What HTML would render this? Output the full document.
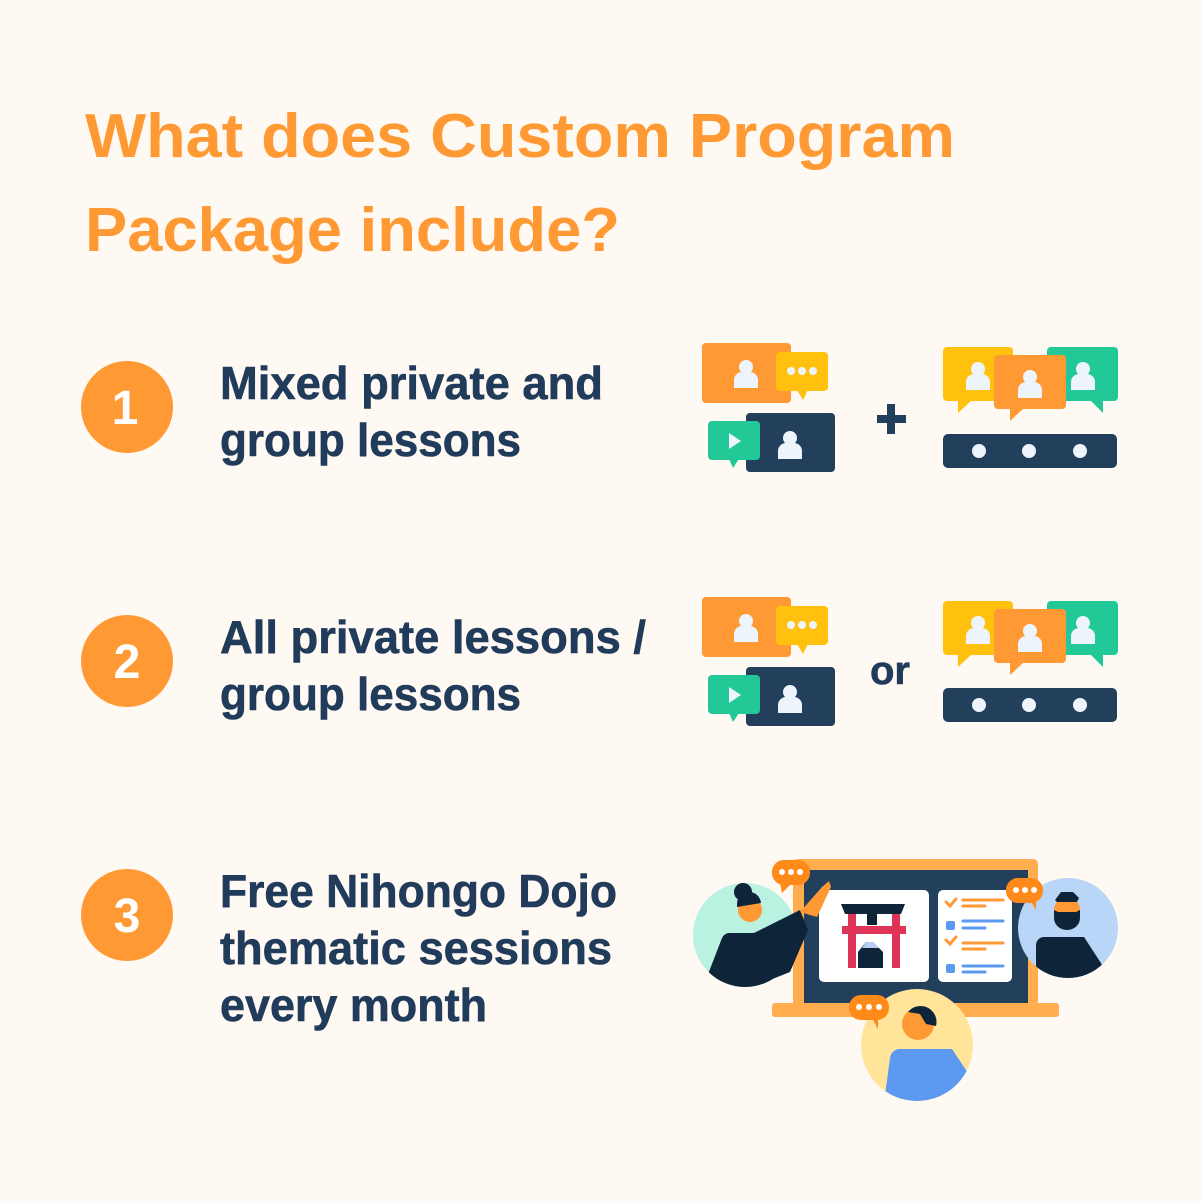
<!DOCTYPE html>
<html><head><meta charset="utf-8"><style>html,body{margin:0;padding:0;background:#fff9f4}svg{display:block}</style></head><body>
<svg width="1201" height="1201" viewBox="0 0 1201 1201" xmlns="http://www.w3.org/2000/svg" font-family="Liberation Sans, sans-serif">
<rect width="1201" height="1201" fill="#fff9f4"/>
<g fill="#ff9933" font-weight="bold" font-size="62">
<text x="85" y="157" textLength="870" lengthAdjust="spacingAndGlyphs">What does Custom Program</text>
<text x="85" y="251" textLength="535" lengthAdjust="spacingAndGlyphs">Package include?</text>
</g>
<defs>
<g id="person"><circle cx="0" cy="-9" r="7" fill="#eef4fc"/><path d="M-12 12 V4 a8 8 0 0 1 8-8 h8 a8 8 0 0 1 8 8 V12 Z" fill="#eef4fc"/></g>
<g id="priv">
<rect x="702" y="343" width="89" height="60" rx="4" fill="#ff9933"/>
<use href="#person" x="746" y="376"/>
<rect x="776" y="352" width="52" height="39" rx="4" fill="#ffc10e"/>
<path d="M797 390 L803 400 L808 390Z" fill="#ffc10e"/>
<circle cx="791" cy="371" r="4" fill="#eef4fc"/><circle cx="802" cy="371" r="4" fill="#eef4fc"/><circle cx="813" cy="371" r="4" fill="#eef4fc"/>
<rect x="746" y="413" width="89" height="59" rx="4" fill="#223f5c"/>
<use href="#person" x="790" y="447"/>
<rect x="708" y="421" width="52" height="39" rx="4" fill="#22c997"/>
<path d="M729 459 L733 468 L739 459Z" fill="#22c997"/>
<path d="M729 433 L741 441 L729 449Z" fill="#eef4fc"/>
</g>
<g id="grp">
<rect x="1047" y="347" width="71" height="54" rx="4" fill="#22c997"/>
<path d="M1090 400 L1103 413 L1103 400Z" fill="#22c997"/>
<use href="#person" x="1083" y="378"/>
<rect x="943" y="347" width="70" height="54" rx="4" fill="#ffc10e"/>
<path d="M958 400 L958 413 L972 400Z" fill="#ffc10e"/>
<use href="#person" x="978" y="378"/>
<rect x="994" y="355" width="72" height="54" rx="4" fill="#ff9933"/>
<path d="M1010 408 L1010 421 L1024 408Z" fill="#ff9933"/>
<use href="#person" x="1030" y="386"/>
<rect x="943" y="434" width="174" height="34" rx="5" fill="#223f5c"/>
<circle cx="979" cy="451" r="7" fill="#eef4fc"/><circle cx="1029" cy="451" r="7" fill="#eef4fc"/><circle cx="1080" cy="451" r="7" fill="#eef4fc"/>
</g>
</defs>
<g fill="#ff9933"><circle cx="127" cy="407" r="46"/><circle cx="127" cy="661" r="46"/><circle cx="127" cy="915" r="46"/></g>
<g fill="#fff" font-weight="bold" font-size="48" text-anchor="middle">
<text x="125" y="424">1</text><text x="127" y="678">2</text><text x="127" y="932">3</text></g>
<g fill="#213b5a" font-weight="bold" font-size="46" stroke="#213b5a" stroke-width="0.6">
<text x="220" y="399" textLength="383" lengthAdjust="spacingAndGlyphs">Mixed private and</text>
<text x="220" y="456" textLength="301" lengthAdjust="spacingAndGlyphs">group lessons</text>
<text x="220" y="653" textLength="426" lengthAdjust="spacingAndGlyphs">All private lessons /</text>
<text x="220" y="710" textLength="301" lengthAdjust="spacingAndGlyphs">group lessons</text>
<text x="220" y="907" textLength="397" lengthAdjust="spacingAndGlyphs">Free Nihongo Dojo</text>
<text x="220" y="964" textLength="392" lengthAdjust="spacingAndGlyphs">thematic sessions</text>
<text x="220" y="1021" textLength="267" lengthAdjust="spacingAndGlyphs">every month</text>
<text x="870" y="684" font-size="40">or</text>
</g>
<use href="#priv"/><use href="#grp"/>
<use href="#priv" y="254"/><use href="#grp" y="254"/>
<path d="M877 415 h29 v8 h-29z M887 404 h8 v30 h-8z" fill="#223f5c"/>
<!-- row 3 -->
<rect x="793" y="859" width="245" height="150" rx="5" fill="#ffad4f"/>
<rect x="804" y="870" width="224" height="140" fill="#223f5c"/>
<rect x="772" y="1003" width="287" height="14" rx="3" fill="#ffad4f"/>
<rect x="819" y="890" width="110" height="92" rx="5" fill="#fff"/>
<rect x="938" y="890" width="74" height="92" rx="5" fill="#fff"/>
<path d="M841 904 h64 l-4 10 h-56z" fill="#0e2438"/>
<rect x="867" y="913" width="10" height="12" fill="#0e2438"/>
<rect x="842" y="926" width="64" height="8" fill="#e03358"/>
<rect x="848" y="914" width="8" height="54" fill="#e03358"/><rect x="892" y="914" width="8" height="54" fill="#e03358"/>
<path d="M858 968 v-16 l8-10 h7 l10 10 v16z" fill="#0e2438"/>
<path d="M862 948 l4-6 h7 l6 6z" fill="#b7ccf3"/>
<g stroke-width="3" stroke-linecap="round" fill="none">
<path d="M946 902 l4 4 l6-7 M946 940 l4 4 l6-7" stroke="#ff9933"/>
<path d="M963 900 h40 M963 906 h22 M963 943 h40 M963 949 h22" stroke="#ff9933"/>
<path d="M963 921 h40 M963 928 h22 M963 966 h40 M963 972 h22" stroke="#5b9af0"/>
</g>
<rect x="946" y="921" width="9" height="9" rx="2" fill="#5b9af0"/><rect x="946" y="964" width="9" height="9" rx="2" fill="#5b9af0"/>
<!-- left person -->
<circle cx="745" cy="935" r="52" fill="#b9f2e0"/>
<clipPath id="c1"><circle cx="745" cy="935" r="52"/></clipPath>
<g clip-path="url(#c1)"><path d="M700 995 L722 938 a8 8 0 0 1 8-5 h24 L780 925 L810 985 L790 995Z" fill="#0e2438"/></g>
<path d="M754 933 L800 910 L808 930 L790 972 L770 980Z" fill="#0e2438"/>
<path d="M800 912 l22-25 l7 -6 l2 6 l-14 30z" fill="#ff9933"/>
<circle cx="750" cy="910" r="12" fill="#ff9933"/><circle cx="743" cy="892" r="9" fill="#0e2438"/>
<path d="M737 905 a12 12 0 0 1 24-2 l-24 4z" fill="#0e2438"/>
<rect x="772" y="860" width="38" height="25" rx="12" fill="#ff8a1a"/><path d="M780 883 l2 10 l8-8z" fill="#ff8a1a"/>
<g fill="#fff"><circle cx="782" cy="872" r="3"/><circle cx="791" cy="872" r="3"/><circle cx="800" cy="872" r="3"/></g>
<!-- right person -->
<circle cx="1068" cy="928" r="50" fill="#b9d5f7"/>
<clipPath id="c2"><circle cx="1068" cy="928" r="50"/></clipPath>
<g clip-path="url(#c2)"><path d="M1036 990 V945 a8 8 0 0 1 8-8 h40 l26 40 V990Z" fill="#0e2438"/></g>
<circle cx="1067" cy="910" r="13" fill="#ff9933"/>
<path d="M1054 910 v8 a13 12 0 0 0 26 0 v-8 l-4 2 h-18z" fill="#0e2438"/>
<path d="M1055 900 l6-8 h12 l6 6 l-2 4 h-20z" fill="#0e2438"/>
<rect x="1006" y="878" width="37" height="25" rx="12" fill="#ff8a1a"/><path d="M1030 900 l6 10 l0-10z" fill="#ff8a1a"/>
<g fill="#fff"><circle cx="1016" cy="890" r="3"/><circle cx="1025" cy="890" r="3"/><circle cx="1034" cy="890" r="3"/></g>
<!-- bottom person -->
<circle cx="917" cy="1045" r="56" fill="#ffe49a"/>
<clipPath id="c3"><circle cx="917" cy="1045" r="56"/></clipPath>
<g clip-path="url(#c3)"><path d="M883 1110 L890 1058 a10 10 0 0 1 10-9 h52 l20 30 V1110Z" fill="#5b9af0"/></g>
<circle cx="918" cy="1024" r="16" fill="#ff9933"/>
<path d="M908 1012 a16 16 0 0 1 28 14 l-10-2 l-6-10z" fill="#0e2438"/>
<rect x="849" y="995" width="40" height="25" rx="12" fill="#ff8a1a"/><path d="M872 1018 l6 11 l0-11z" fill="#ff8a1a"/>
<g fill="#fff"><circle cx="859" cy="1007" r="3"/><circle cx="869" cy="1007" r="3"/><circle cx="879" cy="1007" r="3"/></g>
</svg>
</body></html>
